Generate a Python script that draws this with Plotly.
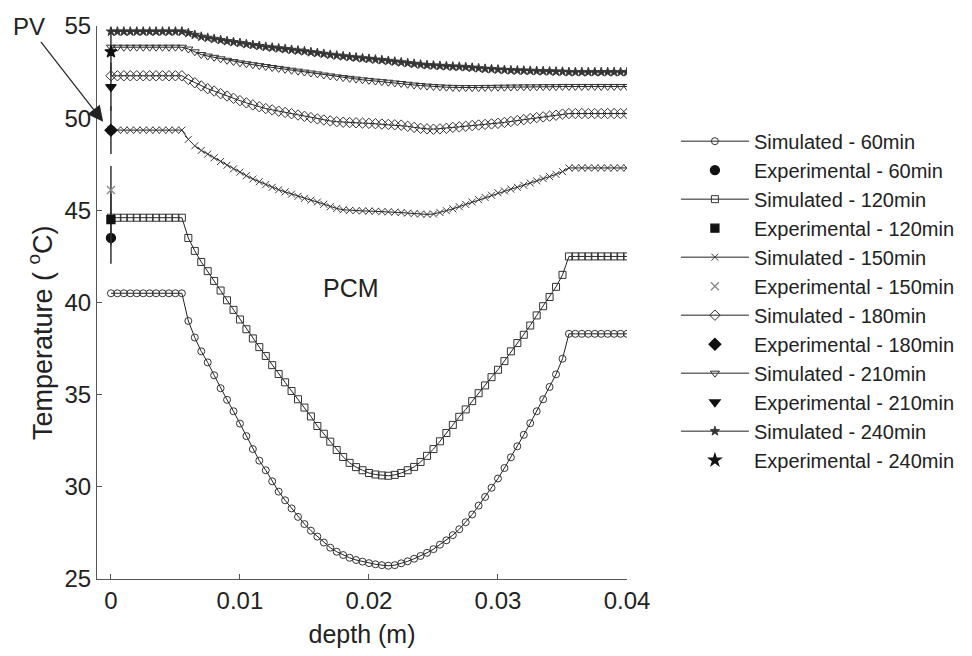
import plotly.graph_objects as go

# depth nodes (m)
depth = [0.0, 0.0005, 0.001, 0.0015, 0.002, 0.0025, 0.003, 0.0035, 0.004, 0.0045,
         0.005, 0.0055, 0.006, 0.0065, 0.007, 0.0075, 0.008, 0.0085, 0.009, 0.0095,
         0.01, 0.0105, 0.011, 0.0115, 0.012, 0.0125, 0.013, 0.0135, 0.014, 0.0145,
         0.015, 0.0155, 0.016, 0.0165, 0.017, 0.0175, 0.018, 0.0185, 0.019, 0.0195,
         0.02, 0.0205, 0.021, 0.0215, 0.022, 0.0225, 0.023, 0.0235, 0.024, 0.0245,
         0.025, 0.0255, 0.026, 0.0265, 0.027, 0.0275, 0.028, 0.0285, 0.029, 0.0295,
         0.03, 0.0305, 0.031, 0.0315, 0.032, 0.0325, 0.033, 0.0335, 0.034, 0.0345,
         0.035, 0.0355, 0.036, 0.0365, 0.037, 0.0375, 0.038, 0.0385, 0.039, 0.0395,
         0.04]

sim_60 = [40.5] * 12 + [
    39.0, 38.1, 37.35, 36.75, 36.05, 35.35, 34.72, 34.1, 33.43, 32.75,
    32.05, 31.42, 30.9, 30.3, 29.74, 29.27, 28.83, 28.37, 27.98, 27.62,
    27.3, 26.98, 26.7, 26.48, 26.3, 26.15, 26.03, 25.94, 25.86, 25.8,
    25.75, 25.72, 25.75, 25.85, 25.96, 26.1, 26.25, 26.42, 26.62, 26.86,
    27.1, 27.38, 27.7, 28.08, 28.5, 28.98, 29.45, 29.95, 30.45, 31.02,
    31.6, 32.2, 32.82, 33.45, 34.1, 34.75, 35.42, 36.1, 36.95] + [38.3] * 10

sim_120 = [44.6] * 12 + [
    43.5, 42.8, 42.2, 41.7, 41.17, 40.65, 40.12, 39.6, 39.08, 38.55,
    38.05, 37.58, 37.1, 36.6, 36.12, 35.67, 35.2, 34.75, 34.3, 33.82,
    33.3, 32.88, 32.45, 32.0, 31.62, 31.3, 31.07, 30.9, 30.75, 30.67,
    30.62, 30.6, 30.65, 30.75, 30.9, 31.08, 31.35, 31.68, 32.05, 32.47,
    32.92, 33.36, 33.8, 34.2, 34.65, 35.08, 35.5, 35.95, 36.35, 36.82,
    37.35, 37.8, 38.25, 38.75, 39.3, 39.8, 40.3, 40.85, 41.5] + [42.5] * 10

sim_150 = [49.35] * 12 + [
    48.85, 48.5, 48.25, 48.05, 47.85, 47.65, 47.45, 47.25, 47.07, 46.88,
    46.7, 46.55, 46.4, 46.25, 46.12, 46.0, 45.88, 45.76, 45.65, 45.55,
    45.45, 45.33, 45.2, 45.1, 45.03, 45.0, 44.98, 44.97, 44.96, 44.95,
    44.93, 44.92, 44.9, 44.88, 44.85, 44.82, 44.8, 44.78, 44.8, 44.88,
    44.98, 45.08, 45.2, 45.32, 45.45, 45.58, 45.7, 45.82, 45.95, 46.05,
    46.15, 46.25, 46.36, 46.48, 46.6, 46.72, 46.83, 46.95, 47.1] + [47.3] * 10

sim_180 = [52.3] * 12 + [
    52.1, 51.92, 51.75, 51.6, 51.47, 51.33, 51.2, 51.08, 50.95, 50.83,
    50.72, 50.62, 50.52, 50.45, 50.38, 50.31, 50.24, 50.17, 50.1, 50.03,
    49.96, 49.9, 49.85, 49.81, 49.78, 49.76, 49.75, 49.73, 49.72, 49.7,
    49.68, 49.66, 49.64, 49.62, 49.56, 49.5, 49.45, 49.42, 49.4, 49.42,
    49.45, 49.5, 49.53, 49.56, 49.6, 49.63, 49.66, 49.69, 49.72, 49.77,
    49.82, 49.87, 49.92, 49.98, 50.03, 50.07, 50.11, 50.16, 50.22] + [50.25] * 10

sim_210 = [53.85] * 12 + [
    53.75, 53.6, 53.45, 53.37, 53.3, 53.22, 53.14, 53.07, 53.0, 52.95,
    52.9, 52.85, 52.8, 52.75, 52.7, 52.65, 52.6, 52.55, 52.5, 52.45,
    52.4, 52.34, 52.29, 52.24, 52.2, 52.16, 52.12, 52.08, 52.05, 52.01,
    51.98, 51.95, 51.91, 51.88, 51.84, 51.8, 51.77, 51.74, 51.72, 51.7,
    51.68, 51.67, 51.66, 51.66, 51.66, 51.66, 51.67, 51.67, 51.68, 51.68,
    51.69, 51.69, 51.7, 51.7, 51.7, 51.71, 51.71, 51.71, 51.72] + [51.72] * 10

sim_240 = [54.7] * 12 + [
    54.62, 54.52, 54.42, 54.36, 54.3, 54.24, 54.18, 54.13, 54.08, 54.02,
    53.97, 53.92, 53.87, 53.83, 53.79, 53.75, 53.71, 53.67, 53.63, 53.58,
    53.54, 53.49, 53.44, 53.4, 53.36, 53.32, 53.29, 53.25, 53.22, 53.18,
    53.15, 53.11, 53.07, 53.03, 52.99, 52.95, 52.91, 52.88, 52.86, 52.84,
    52.82, 52.8, 52.79, 52.77, 52.74, 52.71, 52.68, 52.66, 52.64, 52.62,
    52.6, 52.59, 52.58, 52.57, 52.56, 52.55, 52.54, 52.53, 52.52] + [52.5] * 10

# experimental values at the PV surface (depth 0)
times = ["60min", "120min", "150min", "180min", "210min", "240min"]
exp_depth = [0.0]
exp_val = [43.5, 44.5, 46.1, 49.35, 51.7, 53.6]
exp_err = [1.4, 1.4, 1.3, 1.3, 1.3, 1.3]

x_ticks = [0, 0.01, 0.02, 0.03, 0.04]
x_tick_text = ["0", "0.01", "0.02", "0.03", "0.04"]
y_ticks = [25, 30, 35, 40, 45, 50, 55]

sims = [sim_60, sim_120, sim_150, sim_180, sim_210, sim_240]
for s in sims:
    assert len(s) == len(depth), len(s)

sim_symbols = ["circle-open", "square-open", "x-thin", "diamond-open", "triangle-down-open", "star"]
sim_sizes = [7, 7, 7, 8, 8, 7]
exp_symbols = ["circle", "square", "x-thin", "diamond", "triangle-down", "star"]
exp_sizes = [9, 8, 8, 9, 9, 9]

FONT = "Liberation Sans, Arial, sans-serif"
fig = go.Figure()
for k in range(6):
    fig.add_trace(go.Scatter(
        x=depth, y=sims[k], mode="lines+markers",
        name="Simulated - " + times[k],
        line=dict(color="#222222", width=1),
        marker=dict(symbol=sim_symbols[k], size=sim_sizes[k], color="#333333",
                    line=dict(color="#3a3a3a", width=1)),
    ))
    ecolor = "#888888" if k == 2 else "#111111"
    fig.add_trace(go.Scatter(
        x=exp_depth, y=[exp_val[k]], mode="markers",
        name="Experimental - " + times[k],
        marker=dict(symbol=exp_symbols[k], size=exp_sizes[k], color=ecolor,
                    line=dict(color=ecolor, width=1.3)),
        error_y=dict(type="data", array=[exp_err[k]], visible=True,
                     color="#333333", thickness=1.5, width=0),
    ))

fig.add_annotation(x=0.01857, y=40.8, text="PCM", showarrow=False,
                   font=dict(family=FONT, size=25, color="#222222"))
fig.add_annotation(x=-0.0006, y=49.8, text="PV", showarrow=True,
                   ax=-74, ay=-95, arrowhead=2, arrowsize=2.6, arrowwidth=1.2,
                   arrowcolor="#222222",
                   font=dict(family=FONT, size=24, color="#222222"))
# y-axis title
fig.add_annotation(xref="paper", yref="paper", x=-0.1073, y=0.445,
                   xanchor="center", yanchor="middle",
                   text="Temperature ( <sup>o</sup>C)", textangle=-90,
                   showarrow=False,
                   font=dict(family=FONT, size=27, color="#222222"))

fig.update_layout(
    width=972, height=656,
    margin=dict(l=97, r=344, t=22, b=77),
    paper_bgcolor="white", plot_bgcolor="white",
    font=dict(family=FONT, size=24, color="#222222"),
    showlegend=True,
    legend=dict(x=1.0923, y=0.827, xanchor="left", yanchor="top",
                font=dict(family=FONT, size=20, color="#222222"),
                bgcolor="rgba(0,0,0,0)", itemwidth=68, tracegroupgap=0),
    xaxis=dict(range=[-0.00108, 0.04], tickvals=x_ticks, ticktext=x_tick_text,
               ticks="inside", ticklen=5, tickcolor="#555555",
               showline=True, linecolor="#555555", linewidth=1.2,
               showgrid=False, zeroline=False, mirror=False,
               title=dict(text="depth (m)", standoff=12, font=dict(size=25)),
               tickfont=dict(size=24)),
    yaxis=dict(range=[25, 55], tickvals=y_ticks,
               ticks="inside", ticklen=5, tickcolor="#555555",
               showline=True, linecolor="#555555", linewidth=1.2,
               showgrid=False, zeroline=False, mirror=False,
               tickfont=dict(size=24)),
)

fig.write_html("out.html")
